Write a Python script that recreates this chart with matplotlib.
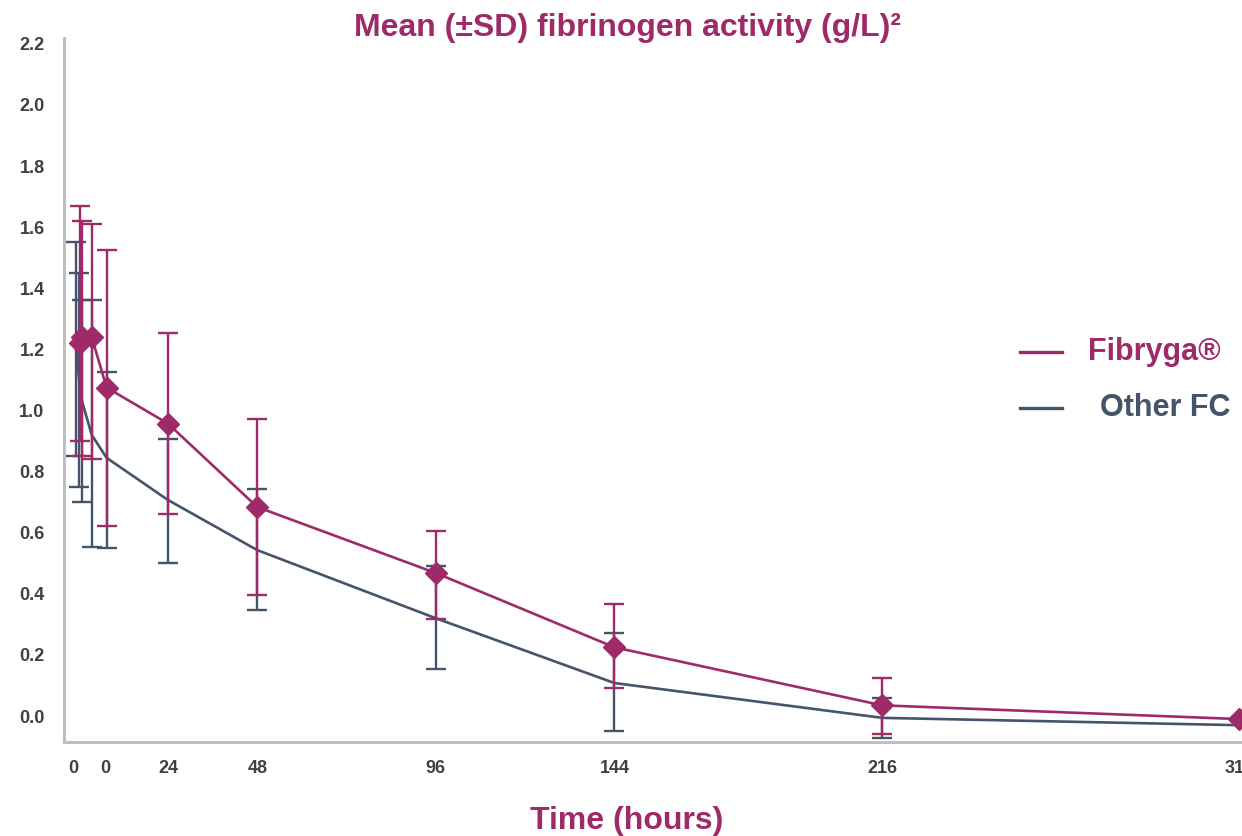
import matplotlib
matplotlib.use('Agg')
import matplotlib.pyplot as plt
import numpy as np
from matplotlib.lines import Line2D

plt.rcParams['font.family'] = ['Liberation Sans', 'DejaVu Sans']

nan = np.nan
# ---- data ----
fib_hours = [0.35, 0.9, 3.5, 7.5, 24, 48, 96, 144, 216, 312]
fib_mean = [1.22, 1.24, 1.24, 1.075, 0.957, 0.684, 0.468, 0.225, 0.035, -0.01]
fib_upper = [1.67, 1.62, 1.61, 1.525, 1.254, 0.972, 0.606, 0.367, 0.124, nan]
fib_lower = [0.90, 0.85, 0.84, 0.622, 0.661, 0.396, 0.318, 0.092, -0.059, nan]

ofc_hours = [-0.6, 0.1, 0.9, 3.5, 7.5, 24, 48, 96, 144, 216, 312]
ofc_mean = [1.21, 1.10, 1.03, 0.92, 0.845, 0.707, 0.543, 0.32, 0.108, -0.006, -0.03]
ofc_upper = [1.55, 1.45, 1.36, 1.36, 1.126, 0.907, 0.743, 0.491, 0.272, 0.06, nan]
ofc_lower = [0.85, 0.75, 0.70, 0.553, 0.55, 0.501, 0.347, 0.154, -0.049, -0.072, nan]

xtick_pos = [-1.5, 7.2, 24, 48, 96, 144, 216, 312]
xtick_labels = ['0', '0', '24', '48', '96', '144', '216', '312']
ytick_vals = [0.0, 0.2, 0.4, 0.6, 0.8, 1.0, 1.2, 1.4, 1.6, 1.8, 2.0, 2.2]

FIB = '#9E2A68'
OFC = '#44546A'
TICK = '#404040'
SPINE = '#BFBFBF'

W, H = 1242, 836
fig = plt.figure(figsize=(W / 100, H / 100), dpi=100)
ax_left, ax_right = 64, 1280
ax_top, ax_bottom = 38, 742
ax = fig.add_axes([ax_left / W, 1 - ax_bottom / H, (ax_right - ax_left) / W, (ax_bottom - ax_top) / H])

px_per_h = 3.72
x0 = 78.7
ax.set_xlim((ax_left - x0) / px_per_h, (ax_right - x0) / px_per_h)
ax.set_ylim(-0.085, 2.219)


def yerr(mean, lo, up):
    m = np.array(mean, float)
    return np.vstack([m - np.array(lo, float), np.array(up, float) - m])


ax.errorbar(ofc_hours, ofc_mean, yerr=yerr(ofc_mean, ofc_lower, ofc_upper),
            color=OFC, lw=1.9, elinewidth=1.7, capsize=7.5, capthick=1.7, zorder=2)
ax.errorbar(fib_hours, fib_mean, yerr=yerr(fib_mean, fib_lower, fib_upper),
            color=FIB, lw=1.9, elinewidth=1.7, capsize=7.5, capthick=1.7,
            marker='D', markersize=11.5, markerfacecolor=FIB, markeredgecolor=FIB,
            zorder=3)

for s in ['top', 'right']:
    ax.spines[s].set_visible(False)
for s in ['left', 'bottom']:
    ax.spines[s].set_color(SPINE)
    ax.spines[s].set_linewidth(2.2)

ax.set_yticks(ytick_vals)
ax.set_yticklabels([f'{v:.1f}' for v in ytick_vals])
ax.set_xticks(xtick_pos)
ax.set_xticklabels(xtick_labels)
ax.tick_params(axis='both', length=0, labelsize=13, labelcolor=TICK)
ax.tick_params(axis='y', pad=14)
ax.tick_params(axis='x', pad=13)
for lab in ax.get_xticklabels() + ax.get_yticklabels():
    lab.set_fontweight('bold')

fig.text(627 / W, 1 - 28 / H, 'Mean (±SD) fibrinogen activity (g/L)²', color=FIB,
         fontsize=23, fontweight='bold', ha='center', va='center')
fig.text(626.5 / W, 1 - 821 / H, 'Time (hours)', color=FIB,
         fontsize=23, fontweight='bold', ha='center', va='center')

# legend
for yy, col, txt, tx in [(352, FIB, 'Fibryga®', 1088), (408, OFC, 'Other FC', 1100)]:
    fig.add_artist(Line2D([1020 / W, 1062 / W], [1 - yy / H, 1 - yy / H], color=col, lw=2.4))
    fig.text(tx / W, 1 - yy / H, txt, color=col, fontsize=22, fontweight='bold',
             ha='left', va='center')

fig.savefig('out.png', dpi=100)
